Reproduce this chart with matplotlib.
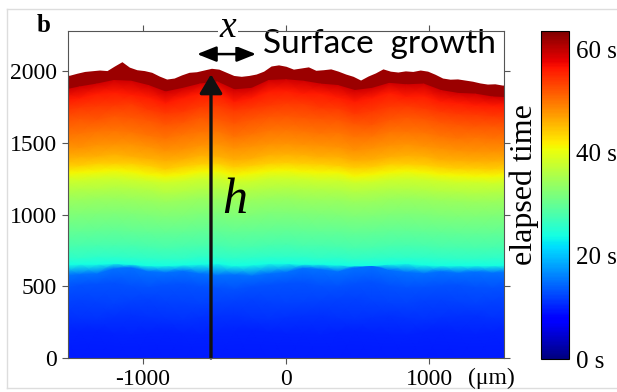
import numpy as np
import matplotlib
matplotlib.use('Agg')
import matplotlib.pyplot as plt
from matplotlib import cm, colors
from matplotlib.lines import Line2D

plt.rcParams['font.family'] = 'Liberation Serif'
plt.rcParams['axes.unicode_minus'] = False

# outermost front (latest time)
top_t = 62
top_x = np.arange(-1560, 1561, 52)
top_h = [1966, 1972, 1986, 1998, 2003, 2008, 2004, 2036, 2066, 2028, 2010, 2004, 1992, 1966, 1945,
         1952, 1974, 1992, 1996, 2008, 2020, 2014, 1992, 1970, 1964, 1970, 1980, 2000, 2036, 2044,
         2034, 2014, 2022, 2030, 2006, 2010, 2016, 2000, 1980, 1964, 1938, 1966, 1988, 2016, 2000,
         1994, 2002, 1998, 2008, 2000, 1978, 1952, 1944, 1946, 1938, 1930, 1918, 1910, 1912, 1903, 1903]

# earlier fronts, from the substrate upwards: time (s), mean height (um), deviation along x (um)
front_x = np.arange(-1560, 1561, 120)
front_t = [9.5, 10, 11, 12, 13, 15, 24, 26, 28, 30, 32, 34, 36, 38, 41, 44, 46, 48, 50, 52, 54, 56, 59]
front_mean = [-20, 170, 280, 390, 500, 600, 650, 700, 780, 880, 1000, 1100, 1170, 1235, 1285, 1340,
              1395, 1470, 1560, 1650, 1735, 1815, 1885]
front_dev = [
    [0] * 27,
    [0, 15, 20, 0, -10, 5, 15, 0, -10, 5, 15, 25, 10, 0, 5, -10, 10, 20, 5, -5, -10, 10, 20, 5, -5, 10, 15],
    [10, -5, -10, 10, 20, 5, -5, -15, 5, 15, 20, 0, -10, 5, 15, 20, 0, -10, 5, 15, 0, -10, 5, 15, 20, 0, 5],
    [0, 15, 5, -10, 10, 20, 5, 0, -15, 0, 10, 20, 5, -5, 0, 10, 20, 25, 5, -5, -10, 10, 15, 0, -10, 5, 10],
    [-15, 10, 15, 25, 5, -5, 10, 15, 0, -10, -20, 0, 10, 20, 25, 5, 0, 20, 30, 5, -10, -5, 5, 10, -5, -10, 5],
    [-25, -15, -10, 25, 32, 5, -2, 8, -10, -22, -18, -25, -10, 0, 28, 20, 5, 32, 45, 15, 0, -8, 5, -5, 2, -4, -2],
    [0, 5, 5, 10, 5, -5, -5, 0, 5, 10, -5, 0, 10, 10, 5, 5, 0, -5, -5, 5, 10, 0, -5, -5, -5, -5, 0],
    [5, 0, 10, 10, 5, 0, -5, -5, 10, 5, 0, 5, 10, 10, 10, 0, 5, -5, 0, 5, 5, 5, 0, -5, -5, 0, 0],
    [0, 5, 10, 10, 10, 0, -10, 0, 5, 10, -5, 0, 10, 15, 5, 5, 0, -10, -5, 5, 10, 5, -5, -5, -10, -5, 0],
    [5, 5, 10, 15, 5, 0, -5, 0, 10, 10, 0, 5, 10, 15, 10, 5, 5, -5, 0, 10, 10, 5, 0, -5, -5, -5, 0],
    [0, 5, 10, 15, 10, 0, -10, -5, 10, 15, -5, 0, 15, 15, 10, 5, 0, -10, -5, 5, 10, 5, -5, -10, -10, -5, 0],
    [5, 5, 15, 15, 10, 0, -10, 0, 15, 10, 0, 5, 15, 20, 10, 5, 5, -10, -5, 10, 15, 10, 0, -5, -10, -10, -5],
    [0, 10, 10, 20, 15, 5, -15, -5, 10, 15, -5, 5, 15, 20, 15, 10, 5, -10, 0, 10, 10, 5, -5, -10, -15, -10, -5],
    [5, 5, 15, 20, 10, 0, -10, 0, 15, 15, -5, 0, 20, 20, 15, 5, 5, -10, -5, 10, 15, 10, 0, -10, -10, -15, -5],
    [0, 10, 15, 25, 15, -5, -15, -5, 15, 20, -10, 5, 20, 25, 15, 10, 10, -15, -5, 10, 20, 10, -5, -10, -15, -15, -10],
    [5, 5, 20, 20, 20, 5, -20, 0, 15, 20, -5, 5, 20, 25, 20, 15, 5, -10, -5, 15, 15, 10, -5, -15, -15, -20, -10],
    [0, 10, 15, 30, 15, 0, -15, -5, 20, 15, -10, 0, 25, 30, 25, 10, 10, -15, -10, 10, 20, 15, -10, -15, -20, -20, -15],
    [5, 0, 20, 25, 25, 5, -20, -10, 15, 25, -5, 10, 25, 30, 20, 15, 5, -20, -5, 15, 25, 10, -5, -20, -25, -25, -20],
    [0, 10, 25, 30, 20, -5, -25, 0, 20, 25, -15, 5, 30, 35, 25, 10, 15, -15, -10, 20, 20, 15, -10, -25, -20, -30, -30],
    [5, 20, 15, 40, 30, 10, -20, -5, 30, 20, -10, 15, 35, 40, 30, 20, 15, -15, -20, 15, 30, 20, -5, -20, -30, -30, -35],
    [-5, 15, 25, 30, 40, 0, -25, -15, 20, 30, -5, 10, 30, 45, 40, 15, 10, -30, -10, 20, 25, 10, -15, -30, -35, -45, -50],
    [-15, 0, 30, 40, 25, 5, -35, 0, 30, 35, -25, 0, 45, 50, 30, 30, 5, -25, 0, 35, 10, 15, -25, -35, -50, -55, -60],
    [-20, 5, 25, 50, 45, 15, -30, -5, 25, 40, -15, -5, 50, 55, 45, 25, 15, -20, -5, 30, 20, 25, -20, -40, -45, -65, -70],
]

x_ticks = [-1000, 0, 1000]
x_labels = ['-1000', '0', '1000']
y_ticks = [0, 500, 1000, 1500, 2000]
y_labels = ['0', '500', '1000', '1500', '2000']
cb_ticks = [0, 20, 40, 60]
cb_labels = ['0 s', '20 s', '40 s', '60 s']

cmap = plt.get_cmap('jet')
norm = colors.Normalize(0, 63.5)

fig = plt.figure(figsize=(6.17, 3.92), dpi=100)
ax = fig.add_axes([68 / 617, 34 / 392, 436 / 617, 327 / 392])

# last front as a solid layer, the earlier fronts as a shaded mesh on top
ax.fill_between(top_x, 0, top_h, color=cmap(norm(top_t)), lw=0)
X = np.tile(front_x, (len(front_t), 1))
Y = np.array(front_mean)[:, None] + np.array(front_dev)
C = np.tile(np.array(front_t)[:, None], (1, len(front_x)))
ax.pcolormesh(X, Y, C, shading='gouraud', cmap=cmap, norm=norm)

ax.set_xlim(-1520, 1520)
ax.set_ylim(0, 2280)
ax.set_xticks(x_ticks, x_labels, fontfamily='Liberation Serif')
ax.set_yticks(y_ticks, y_labels, fontfamily='Liberation Serif')
ax.tick_params(direction='out', length=4, width=0.8, top=True, right=True,
               labeltop=False, labelright=False, labelsize=17, color='#555555', pad=4)
for s in ax.spines.values():
    s.set_linewidth(0.8)
    s.set_color('#555555')
    s.set_zorder(4)

# arrows and labels
ax.annotate('', xy=(-523, 1978), xytext=(-523, 0),
            arrowprops=dict(arrowstyle='-|>,head_length=0.4,head_width=0.24', lw=2.4,
                            color='#111111', mutation_scale=29, shrinkA=0, shrinkB=0))
ax.annotate('', xy=(-620, 2119), xytext=(-209, 2119),
            arrowprops=dict(arrowstyle='<|-|>,head_length=0.4,head_width=0.16', lw=1.8,
                            color='black', mutation_scale=29, shrinkA=0, shrinkB=0))
ax.text(-404, 2237, 'x', fontsize=27, fontstyle='italic', ha='center', va='baseline',
        bbox=dict(fc='white', ec='none', pad=1), clip_on=False, zorder=5)
ax.text(-446, 1011, 'h', fontsize=36, fontstyle='italic', ha='left', va='baseline')
ax.text(-160, 2126, 'Surface  growth', fontsize=24, family='Lato', ha='left', va='baseline')

fig.text(468 / 617, 1 - 384 / 392, '(μm)', fontsize=17, ha='left', va='baseline')
fig.text(37 / 617, 1 - 32 / 392, 'b', fontsize=18, fontweight='bold', ha='left', va='baseline')

# colour bar
cax = fig.add_axes([541 / 617, 33 / 392, 28 / 617, 328 / 392])
cb = fig.colorbar(cm.ScalarMappable(norm=norm, cmap=cmap), cax=cax, ticks=cb_ticks)
cb.ax.set_yticklabels(cb_labels)
cb.ax.tick_params(length=0, labelsize=18, pad=5)
cb.outline.set_linewidth(0.8)
fig.text(524 / 617, 1 - 185 / 392, 'elapsed time', fontsize=23, rotation=90,
         ha='center', va='center')

# thin frame around the panel
for seg in [((7, 617), (9, 9)), ((7, 617), (388, 388)), ((7, 7), (9, 388))]:
    fig.add_artist(Line2D([v / 617 for v in seg[0]], [1 - v / 392 for v in seg[1]],
                          color='#dddddd', lw=1))

fig.savefig('out.png', dpi=100)
